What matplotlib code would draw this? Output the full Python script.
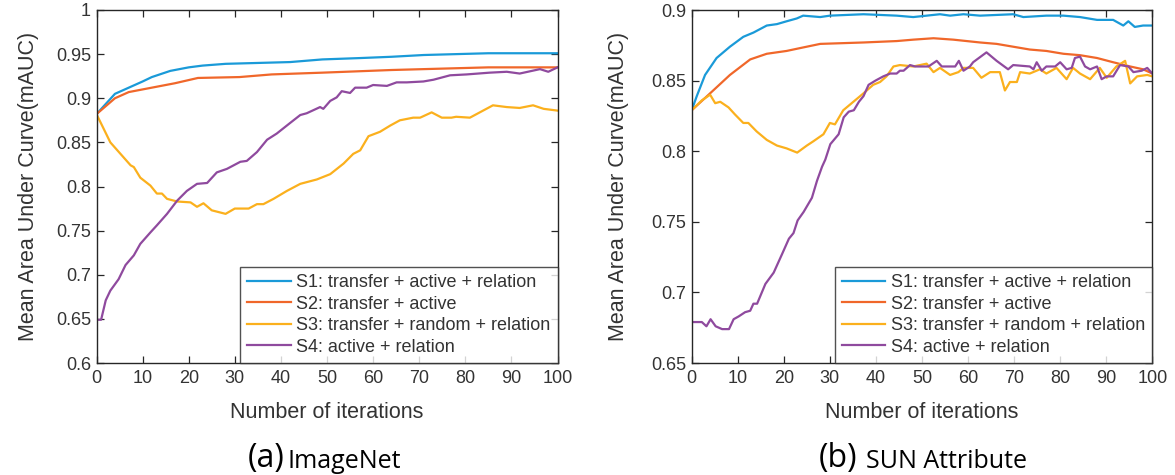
import matplotlib
matplotlib.use("Agg")
import matplotlib.pyplot as plt
from matplotlib.ticker import FixedLocator, FixedFormatter

# ---------------- data: (a) ImageNet ----------------
a_s1_x = [0, 4, 7, 10, 12, 16, 20, 23, 28, 35, 42, 49, 57, 64, 71, 78, 85, 92, 100]
a_s1_y = [0.882, 0.905, 0.912, 0.919, 0.924, 0.931, 0.935, 0.937, 0.939, 0.940, 0.941,
          0.944, 0.9455, 0.947, 0.949, 0.950, 0.951, 0.951, 0.951]

a_s2_x = [0, 4, 7, 12, 17, 22, 31, 38, 49, 64, 78, 85, 100]
a_s2_y = [0.882, 0.900, 0.907, 0.912, 0.917, 0.923, 0.924, 0.927, 0.929, 0.932, 0.934,
          0.935, 0.935]

a_s3_x = [0, 3, 5.2, 7.4, 8.1, 9.5, 11.7, 13.1, 14.2, 15.3, 17.5, 20.4, 21.8, 23.2, 25,
          28, 30, 33, 34.8, 36.2, 38.4, 41.3, 44.2, 47.8, 50.7, 53.6, 55.7, 57.2, 59,
          61.5, 63.7, 65.8, 68.7, 70.2, 72.7, 74.9, 77, 78, 81, 83.5, 86, 89, 91.8,
          94.7, 97, 100]
a_s3_y = [0.882, 0.850, 0.837, 0.824, 0.822, 0.810, 0.801, 0.792, 0.792, 0.786, 0.783,
          0.782, 0.777, 0.781, 0.773, 0.769, 0.775, 0.775, 0.780, 0.780, 0.786, 0.795,
          0.803, 0.808, 0.814, 0.826, 0.837, 0.841, 0.857, 0.862, 0.869, 0.875, 0.878,
          0.878, 0.884, 0.878, 0.878, 0.879, 0.878, 0.885, 0.892, 0.890, 0.889, 0.892,
          0.888, 0.886]

a_s4_x = [0, 1, 2, 3, 4.8, 6.3, 8.1, 9.5, 11.7, 13.1, 15.3, 17.5, 19.6, 21.8, 24, 26.1,
          28.3, 31.2, 32.6, 34.8, 37, 39.1, 42, 44.2, 45.6, 48.5, 49.2, 50.7, 52.1, 53.2,
          55, 56.1, 58.6, 60, 63, 65.1, 67.3, 70.9, 73.1, 76.7, 80.3, 85.3, 89, 91.8,
          96.2, 98, 100]
a_s4_y = [0.649, 0.649, 0.671, 0.682, 0.695, 0.711, 0.722, 0.735, 0.748, 0.756, 0.769,
          0.784, 0.795, 0.803, 0.804, 0.816, 0.820, 0.828, 0.829, 0.839, 0.853, 0.860,
          0.872, 0.881, 0.883, 0.890, 0.888, 0.897, 0.901, 0.908, 0.906, 0.912, 0.912,
          0.915, 0.914, 0.918, 0.918, 0.919, 0.921, 0.926, 0.927, 0.929, 0.930, 0.928,
          0.933, 0.930, 0.935]

# ---------------- data: (b) SUN Attribute ----------------
b_s1_x = [0, 1.1, 2.9, 5.4, 8.3, 11.2, 13.4, 16.3, 18.5, 20.6, 22.8, 24.2, 27.9, 30,
          37.3, 44.5, 48.1, 53.9, 56.1, 59, 62.6, 69.8, 72, 77, 80.7, 84.3, 88, 91.5,
          93.7, 94.8, 96.2, 98, 100]
b_s1_y = [0.829, 0.839, 0.854, 0.866, 0.874, 0.881, 0.884, 0.889, 0.890, 0.892, 0.894,
          0.896, 0.895, 0.896, 0.897, 0.896, 0.895, 0.897, 0.896, 0.897, 0.896, 0.897,
          0.895, 0.896, 0.896, 0.895, 0.893, 0.893, 0.889, 0.892, 0.888, 0.889, 0.889]

b_s2_x = [0, 4, 8.3, 12.7, 16.3, 20.6, 23.5, 27.9, 37.3, 44.5, 48.1, 52.5, 56.8, 62.6,
          66.2, 69.8, 73.4, 77, 80.7, 84.3, 88, 91.5, 95.2, 98, 100]
b_s2_y = [0.829, 0.841, 0.854, 0.865, 0.869, 0.871, 0.873, 0.876, 0.877, 0.878, 0.879,
          0.880, 0.879, 0.877, 0.876, 0.874, 0.872, 0.871, 0.869, 0.868, 0.866, 0.863,
          0.860, 0.858, 0.855]

b_s3_x = [0, 2.2, 4, 5.1, 6.2, 8, 9.4, 11.2, 12.3, 14.1, 16.3, 18.5, 20.6, 22.9, 25,
          26.4, 28.6, 30, 31.1, 32.9, 35.1, 37.3, 39.4, 40.9, 42.3, 43.8, 45.2, 48.1, 51,
          52.5, 53.9, 56.1, 57.9, 59, 61.1, 62.9, 64.8, 66.9, 68, 69.1, 70.6, 71.3, 73.4,
          75.6, 77, 79.2, 81.4, 82.8, 84.3, 86.5, 88.6, 90.1, 92.2, 94.1, 95.2, 96.7,
          98.9, 100]
b_s3_y = [0.829, 0.836, 0.840, 0.834, 0.835, 0.831, 0.826, 0.820, 0.820, 0.814, 0.808,
          0.804, 0.802, 0.799, 0.804, 0.807, 0.812, 0.820, 0.819, 0.829, 0.835, 0.841,
          0.847, 0.849, 0.853, 0.860, 0.861, 0.860, 0.862, 0.856, 0.859, 0.854, 0.856,
          0.859, 0.859, 0.852, 0.856, 0.856, 0.843, 0.849, 0.849, 0.856, 0.855, 0.858,
          0.855, 0.859, 0.851, 0.859, 0.855, 0.851, 0.859, 0.852, 0.860, 0.864, 0.848,
          0.853, 0.854, 0.853]

b_s4_x = [0, 2.2, 3.2, 4.1, 5.2, 6.6, 8.1, 9.1, 10.2, 11.6, 12.7, 13.4, 14.2, 16, 17.8,
          19.6, 21.1, 22.1, 23, 24.3, 26.1, 27.2, 28.3, 29, 30.1, 31.9, 33, 34.1, 35.2,
          36.3, 37.3, 38.4, 39.9, 41.6, 43.1, 44.5, 45.2, 46, 47.4, 48.5, 51.4, 53.2, 54.3,
          56.1, 57.2, 58, 59, 60.4, 61.1, 64, 66.2, 68.7, 69.8, 73.4, 74.2, 74.9, 76, 77,
          78.9, 80, 81.4, 82.5, 83.2, 84.3, 85.4, 86.5, 88, 89, 90.1, 91.5, 93, 94.8,
          95.9, 97.7, 98.9, 100]
b_s4_y = [0.679, 0.679, 0.676, 0.681, 0.676, 0.674, 0.674, 0.681, 0.683, 0.686, 0.687,
          0.692, 0.692, 0.706, 0.714, 0.727, 0.738, 0.742, 0.751, 0.757, 0.767, 0.779,
          0.789, 0.794, 0.805, 0.812, 0.824, 0.828, 0.829, 0.835, 0.839, 0.847, 0.850,
          0.853, 0.855, 0.855, 0.857, 0.857, 0.861, 0.860, 0.860, 0.864, 0.860, 0.860,
          0.860, 0.864, 0.857, 0.860, 0.863, 0.870, 0.864, 0.858, 0.861, 0.860, 0.858,
          0.863, 0.857, 0.860, 0.860, 0.863, 0.858, 0.859, 0.866, 0.867, 0.860, 0.858,
          0.860, 0.851, 0.853, 0.853, 0.861, 0.860, 0.856, 0.857, 0.859, 0.855]

labels = ["S1: transfer + active + relation", "S2: transfer + active",
          "S3: transfer + random + relation", "S4: active + relation"]
colors = ["#1a9ad8", "#f0672a", "#fbb01d", "#8f4a9e"]

x_ticks = [0, 10, 20, 30, 40, 50, 60, 70, 80, 90, 100]
a_yticks = [0.6, 0.65, 0.7, 0.75, 0.8, 0.85, 0.9, 0.95, 1.0]
a_yticklabels = ["0.6", "0.65", "0.7", "0.75", "0.8", "0.85", "0.9", "0.95", "1"]
b_yticks = [0.65, 0.7, 0.75, 0.8, 0.85, 0.9]
b_yticklabels = ["0.65", "0.7", "0.75", "0.8", "0.85", "0.9"]

plt.rcParams["font.family"] = ["Liberation Sans", "DejaVu Sans"]
TXT = "#333333"
AX = "#262626"

fig = plt.figure(figsize=(11.75, 4.75), dpi=100)
W, H = 1175.0, 475.0


def make_axes(x0, x1, y0, y1):
    return fig.add_axes([x0 / W, 1 - y1 / H, (x1 - x0) / W, (y1 - y0) / H])


def style(ax, yticks, yticklabels, ylim, ylab_x):
    ax.set_xlim(0, 100)
    ax.set_ylim(*ylim)
    ax.xaxis.set_major_locator(FixedLocator(x_ticks))
    ax.yaxis.set_major_locator(FixedLocator(yticks))
    ax.yaxis.set_major_formatter(FixedFormatter(yticklabels))
    ax.tick_params(direction="in", length=5, width=0.9, colors=AX, labelcolor=TXT,
                   labelsize=13, top=True, right=True)
    ax.tick_params(axis="x", pad=5)
    ax.tick_params(axis="y", pad=4)
    for s in ax.spines.values():
        s.set_color(AX)
        s.set_linewidth(1.0)
    ax.set_xlabel("Number of iterations", fontsize=15.5, color=TXT, labelpad=11)
    ax.set_ylabel("Mean Area Under Curve(mAUC)", fontsize=15.5, color=TXT)
    ax.yaxis.set_label_coords(ylab_x, 0.5)
    leg = ax.legend(loc="lower right", fontsize=13, frameon=True, fancybox=False,
                    borderaxespad=0, handlelength=2.4, handletextpad=0.3,
                    labelspacing=0.25, borderpad=0.4)
    leg.get_frame().set_edgecolor(AX)
    leg.get_frame().set_linewidth(1.0)
    for t in leg.get_texts():
        t.set_color(TXT)


ax1 = make_axes(96.5, 557.5, 10, 363)
for xs, ys, c, l in zip([a_s1_x, a_s2_x, a_s3_x, a_s4_x], [a_s1_y, a_s2_y, a_s3_y, a_s4_y],
                        colors, labels):
    ax1.plot(xs, ys, color=c, lw=1.6, label=l)
style(ax1, a_yticks, a_yticklabels, (0.6, 1.0), -0.125)

ax2 = make_axes(691.7, 1152.3, 10, 363)
for xs, ys, c, l in zip([b_s1_x, b_s2_x, b_s3_x, b_s4_x], [b_s1_y, b_s2_y, b_s3_y, b_s4_y],
                        colors, labels):
    ax2.plot(xs, ys, color=c, lw=1.6, label=l)
style(ax2, b_yticks, b_yticklabels, (0.65, 0.9), -0.136)

cap_font = ["Open Sans", "DejaVu Sans"]
fig.text(285 / W, 1 - 466.5 / H, "(a)", fontsize=23, ha="right", va="baseline",
         family=cap_font, color="black")
fig.text(288 / W, 1 - 467.7 / H, "ImageNet", fontsize=18, ha="left", va="baseline",
         family=cap_font, color="black")
fig.text(857 / W, 1 - 466.5 / H, "(b)", fontsize=23, ha="right", va="baseline",
         family=cap_font, color="black")
fig.text(866 / W, 1 - 468 / H, "SUN Attribute", fontsize=18, ha="left", va="baseline",
         family=cap_font, color="black")

fig.savefig("out.png", dpi=100)
